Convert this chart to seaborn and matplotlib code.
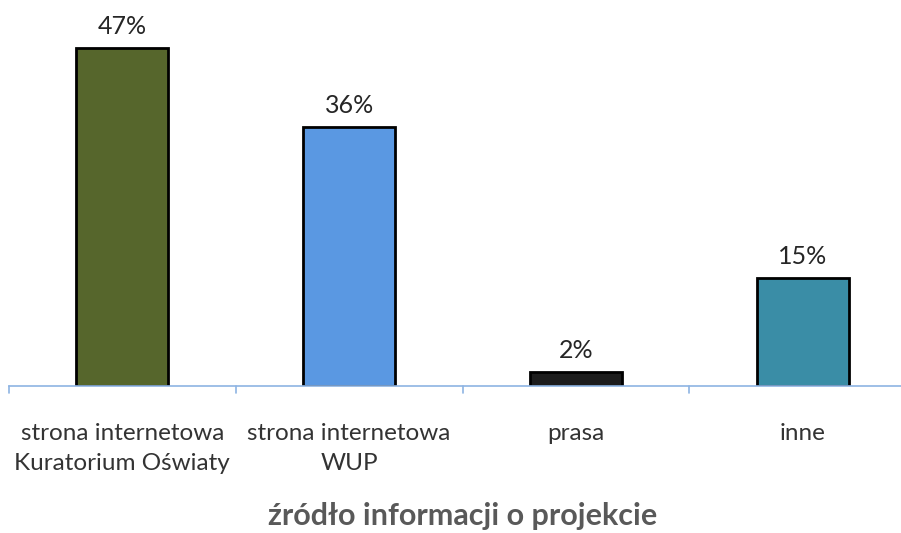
import matplotlib
matplotlib.use("Agg")
import matplotlib.pyplot as plt
import seaborn as sns
import pandas as pd

categories = ["strona internetowa\nKuratorium Oświaty", "strona internetowa\nWUP", "prasa", "inne"]
values = [47, 36, 2, 15]
colors = ["#56662C", "#5A98E2", "#1C1C1C", "#3A8DA6"]
xlabel = "źródło informacji o projekcie"

sns.set_style("white")
plt.rcParams['font.family'] = ['Lato', 'DejaVu Sans']

df = pd.DataFrame({"cat": categories, "val": values})

W, H = 901, 533
fig = plt.figure(figsize=(W / 100, H / 100), dpi=100)
px = 7.19
ymax = 50
ax = fig.add_axes([9 / W, (H - 386) / H, 907 / W, ymax * px / H])

sns.barplot(data=df, x="cat", y="val", hue="cat", palette=colors, legend=False,
            width=0.406, edgecolor="black", linewidth=2, ax=ax, saturation=1)

ax.set_xlim(-0.5, 3.5)
ax.set_ylim(0, ymax)
ax.set_yticks([])
ax.set_ylabel("")
for s in ["top", "right", "left"]:
    ax.spines[s].set_visible(False)
ax.spines["bottom"].set_color("#8EB4E3")
ax.spines["bottom"].set_linewidth(1.2)

ax.set_xticks(range(len(categories)))
ax.set_xticklabels(categories, fontsize=17.5, color="#333333", linespacing=1.5)
ax.tick_params(axis="x", length=0, pad=27)
for b in [-0.5, 0.5, 1.5, 2.5]:
    ax.plot([b, b], [0, -1.0], color="#8EB4E3", lw=1.2, clip_on=False)

for patch in ax.patches:
    h = patch.get_height()
    if h and h > 0:
        ax.annotate(f"{h:.0f}%", (patch.get_x() + patch.get_width() / 2, h),
                    xytext=(0, 7), textcoords="offset points", ha="center", va="bottom",
                    fontsize=18, color="#262626")

ax.set_xlabel(xlabel, fontsize=22, fontweight="bold", color="#595959", labelpad=20)

fig.savefig("out.png", dpi=100)
